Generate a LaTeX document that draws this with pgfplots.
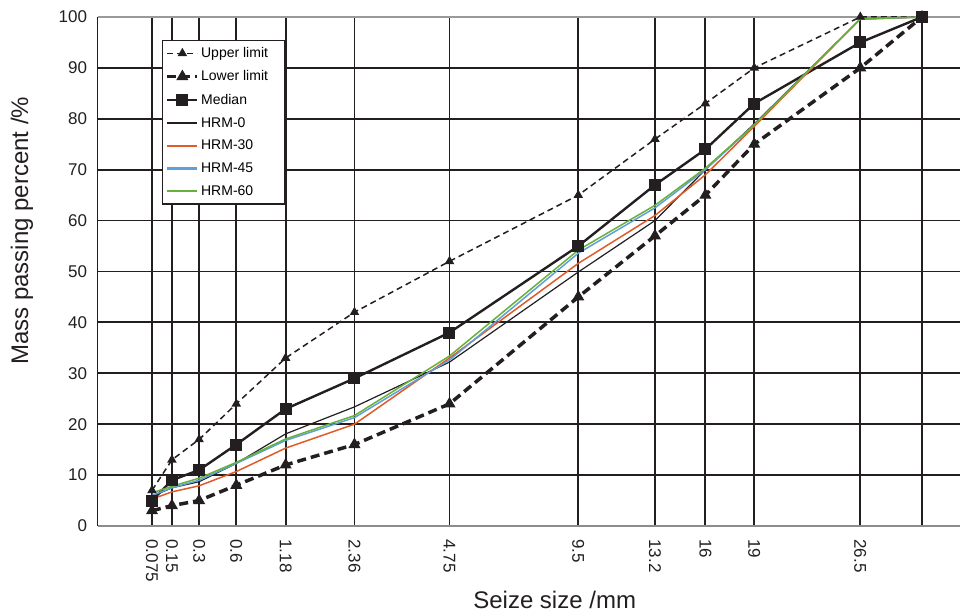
\documentclass[border=0pt]{standalone}
\usepackage{pgfplots}
\pgfplotsset{compat=1.18}
\usepackage{pgfplotstable}
\usepackage{fontspec}
\setmainfont{Liberation Sans}

\definecolor{gridc}{HTML}{231F20}
\definecolor{hrmred}{RGB}{225,90,40}
\definecolor{hrmblue}{RGB}{95,160,215}
\definecolor{hrmgreen}{RGB}{105,175,60}

% x = sieve size^0.45 (gradation chart scale)
\pgfplotstableread{
x       d     upper lower median h0   h30  h45  h60
0.31172 0.075 7     3     5      5.8  5.3  6.0  6.5
0.42585 0.15  13    4     9      7.5  6.7  7.5  7.8
0.58172 0.3   17    5     11     8.7  7.9  9.0  9.4
0.79465 0.6   24    8     16     12.3 10.7 12.3 12.5
1.07732 1.18  33    12    23     18.1 15.3 16.8 17.1
1.47167 2.36  42    16    29     23.4 20.0 21.3 21.7
2.01613 4.75  52    24    38     32.2 33.0 32.6 33.4
2.75408 9.5   65    45    55     49.9 51.6 53.6 54.2
3.19335 13.2  76    57    67     60.0 61.0 62.5 63.0
3.48213 16    83    65    74     70.0 69.0 70.0 70.3
3.76223 19    90    75    83     79.0 78.5 78.8 78.8
4.36987 26.5  100   90    95     99.6 99.6 99.6 99.6
4.72312 31.5  100   100   100    100  100  100  100
}\gradation

\begin{document}
\begin{tikzpicture}
\begin{axis}[
    at={(97.6pt,89pt)}, anchor=south west,
    scale only axis, width=862.4pt, height=509pt,
    xmin=0, xmax=4.941, ymin=0, ymax=100,
    clip=false,
    axis x line=bottom, axis y line=left,
    x axis line style={-, draw=black!45, line width=1.8pt},
    y axis line style={-, draw=gridc, line width=1.8pt},
    xtick={0.31172,0.42585,0.58172,0.79465,1.07732,1.47167,2.01613,2.75408,3.19335,3.48213,3.76223,4.36987,4.72312},
    xticklabels={0.075,0.15,0.3,0.6,1.18,2.36,4.75,9.5,13.2,16,19,26.5,},
    ytick={0,10,...,100},
    major tick length=0pt,
    grid=major, grid style={gridc, line width=1.8pt},
    /pgf/number format/assume math mode=true,
    tick label style={font=\fontsize{17}{20}\selectfont, text=gridc},
    xticklabel style={rotate=-90, anchor=west, xshift=10pt},
    yticklabel style={anchor=east, xshift=-7pt},
    xlabel={Seize size /mm}, ylabel={Mass passing percent /\%},
    label style={font=\fontsize{24}{28}\selectfont, text=gridc},
    xlabel style={at={(axis description cs:0.530,-0.145)}, anchor=center},
    ylabel style={at={(axis description cs:-0.0877,0.58)}, anchor=center, rotate=0},
    legend style={at={(axis description cs:0.0747,0.955)}, anchor=north west,
                  draw=gridc, line width=1.2pt, fill=white,
                  font=\fontsize{14}{16}\selectfont, row sep=7.6pt,
                  inner xsep=3pt, inner ysep=5pt},
    legend cell align=left,
    legend image code/.code={\draw[mark repeat=2,mark phase=2,#1]
        plot coordinates {(0pt,0pt) (15pt,0pt) (30pt,0pt)};},
]
\draw[black!40, line width=1.8pt] (axis cs:0,100) -- (axis cs:4.941,100);
\addplot[gridc, line width=1.5pt, dash pattern=on 6pt off 4pt,
         mark=triangle*, mark size=4pt, mark options={solid}]
    table[x=x, y=upper] {\gradation};
\addlegendentry{Upper limit}
\addplot[gridc, line width=3.5pt, dash pattern=on 9pt off 5pt,
         mark=triangle*, mark size=6pt, mark options={solid, line width=1pt}]
    table[x=x, y=lower] {\gradation};
\addlegendentry{Lower limit\hspace*{12pt}\mbox{}}
\addplot[gridc, line width=2.4pt, mark=square*, mark size=5.5pt,
         mark options={solid, line width=1pt}]
    table[x=x, y=median] {\gradation};
\addlegendentry{Median}
\addplot[gridc, line width=1.2pt, legend image post style={line width=1.8pt}]
    table[x=x, y=h0] {\gradation};
\addlegendentry{HRM-0}
\addplot[hrmred, line width=1.5pt, legend image post style={line width=2.2pt}]
    table[x=x, y=h30] {\gradation};
\addlegendentry{HRM-30}
\addplot[hrmblue, line width=1.5pt, legend image post style={line width=2.2pt}]
    table[x=x, y=h45] {\gradation};
\addlegendentry{HRM-45}
\addplot[hrmgreen, line width=1.5pt, legend image post style={line width=2.2pt}]
    table[x=x, y=h60] {\gradation};
\addlegendentry{HRM-60}
\end{axis}
\pgfresetboundingbox
\useasboundingbox (0,0) rectangle (960pt,615pt);
\end{tikzpicture}
\end{document}
